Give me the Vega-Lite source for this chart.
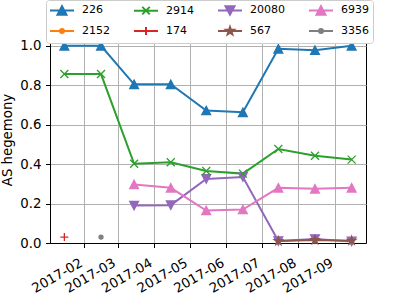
{
  "$schema": "https://vega.github.io/schema/vega-lite/v6.json",
  "autosize": {"type": "none"},
  "width": 316,
  "height": 207,
  "padding": {"left": 50, "top": 36, "right": 41, "bottom": 62},
  "config": {
    "font": "DejaVu Sans",
    "view": {"stroke": "black", "strokeWidth": 1},
    "axis": {
      "labelFont": "DejaVu Sans",
      "labelFontSize": 13.3,
      "labelColor": "black",
      "titleFont": "DejaVu Sans",
      "titleFontSize": 13.3,
      "titleFontWeight": "normal",
      "titleColor": "black",
      "domainColor": "black",
      "tickColor": "black",
      "tickSize": 4.5,
      "gridColor": "#b0b0b0",
      "gridWidth": 1,
      "gridOpacity": 1,
      "labelOverlap": false
    },
    "legend": {
      "labelFont": "DejaVu Sans",
      "labelFontSize": 11,
      "labelColor": "black",
      "title": null,
      "orient": "none",
      "legendX": -4,
      "legendY": -36,
      "columns": 4,
      "direction": "horizontal",
      "padding": 4,
      "fillColor": "white",
      "strokeColor": "#cccccc",
      "cornerRadius": 3,
      "symbolSize": 100,
      "symbolStrokeWidth": 2,
      "symbolOpacity": 1,
      "labelOffset": 20,
      "columnPadding": 20,
      "rowPadding": 4
    }
  },
  "data": {
    "values": [
      {"series": "226", "date": "2017-01-15", "value": 1.0},
      {"series": "226", "date": "2017-02-15", "value": 1.0},
      {"series": "226", "date": "2017-03-15", "value": 0.805},
      {"series": "226", "date": "2017-04-15", "value": 0.805},
      {"series": "226", "date": "2017-05-15", "value": 0.672},
      {"series": "226", "date": "2017-06-15", "value": 0.663},
      {"series": "226", "date": "2017-07-15", "value": 0.985},
      {"series": "226", "date": "2017-08-15", "value": 0.978},
      {"series": "226", "date": "2017-09-15", "value": 1.0},
      {"series": "2914", "date": "2017-01-15", "value": 0.857},
      {"series": "2914", "date": "2017-02-15", "value": 0.857},
      {"series": "2914", "date": "2017-03-15", "value": 0.402},
      {"series": "2914", "date": "2017-04-15", "value": 0.41},
      {"series": "2914", "date": "2017-05-15", "value": 0.365},
      {"series": "2914", "date": "2017-06-15", "value": 0.352},
      {"series": "2914", "date": "2017-07-15", "value": 0.477},
      {"series": "2914", "date": "2017-08-15", "value": 0.443},
      {"series": "2914", "date": "2017-09-15", "value": 0.423},
      {"series": "174", "date": "2017-01-15", "value": 0.03},
      {"series": "3356", "date": "2017-02-15", "value": 0.03},
      {"series": "20080", "date": "2017-03-15", "value": 0.19},
      {"series": "20080", "date": "2017-04-15", "value": 0.192},
      {"series": "20080", "date": "2017-05-15", "value": 0.325},
      {"series": "20080", "date": "2017-06-15", "value": 0.335},
      {"series": "20080", "date": "2017-07-15", "value": 0.01},
      {"series": "20080", "date": "2017-08-15", "value": 0.02},
      {"series": "20080", "date": "2017-09-15", "value": 0.008},
      {"series": "6939", "date": "2017-03-15", "value": 0.297},
      {"series": "6939", "date": "2017-04-15", "value": 0.28},
      {"series": "6939", "date": "2017-05-15", "value": 0.165},
      {"series": "6939", "date": "2017-06-15", "value": 0.17},
      {"series": "6939", "date": "2017-07-15", "value": 0.28},
      {"series": "6939", "date": "2017-08-15", "value": 0.275},
      {"series": "6939", "date": "2017-09-15", "value": 0.28},
      {"series": "567", "date": "2017-07-15", "value": 0.01},
      {"series": "567", "date": "2017-08-15", "value": 0.015},
      {"series": "567", "date": "2017-09-15", "value": 0.012}
    ]
  },
  "encoding": {
    "x": {
      "field": "date",
      "type": "temporal",
      "scale": {
        "type": "utc",
        "domain": [
          {"year": 2017, "month": 1, "date": 2, "hours": 20, "minutes": 24, "utc": true},
          {"year": 2017, "month": 9, "date": 27, "hours": 3, "minutes": 36, "utc": true}
        ],
        "nice": false
      },
      "axis": {
        "title": null,
        "format": "%Y-%m",
        "labelAngle": -30,
        "labelAlign": "right",
        "labelBaseline": "top",
        "labelPadding": 8,
        "labelOffset": -7,
        "labelOverlap": false,
        "values": [
          {"year": 2017, "month": 2, "date": 1, "utc": true},
          {"year": 2017, "month": 3, "date": 1, "utc": true},
          {"year": 2017, "month": 4, "date": 1, "utc": true},
          {"year": 2017, "month": 5, "date": 1, "utc": true},
          {"year": 2017, "month": 6, "date": 1, "utc": true},
          {"year": 2017, "month": 7, "date": 1, "utc": true},
          {"year": 2017, "month": 8, "date": 1, "utc": true},
          {"year": 2017, "month": 9, "date": 1, "utc": true}
        ]
      }
    },
    "y": {
      "field": "value",
      "type": "quantitative",
      "scale": {"domain": [0, 1.05], "nice": false, "zero": false},
      "axis": {
        "title": "AS hegemony",
        "values": [0, 0.2, 0.4, 0.6, 0.8, 1.0],
        "format": ".1f",
        "labelPadding": 4.5,
        "titlePadding": 5
      }
    },
    "color": {
      "field": "series", "type": "nominal", "sort": null,
      "scale": {
        "domain": ["226", "2914", "20080", "6939", "2152", "174", "567", "3356"],
        "range": ["#1f77b4", "#2ca02c", "#9467bd", "#e377c2", "#ff7f0e", "#d62728", "#8c564b", "#7f7f7f"]
      }
    },
    "stroke": {
      "field": "series", "type": "nominal", "sort": null,
      "scale": {
        "domain": ["226", "2914", "20080", "6939", "2152", "174", "567", "3356"],
        "range": ["#1f77b4", "#2ca02c", "#9467bd", "#e377c2", "#ff7f0e", "#d62728", "#8c564b", "#7f7f7f"]
      }
    }
  },
  "layer": [
    {
      "mark": {"type": "point", "filled": true, "size": 100, "strokeWidth": 2, "opacity": 0},
      "encoding": {
        "shape": {
          "field": "series",
          "type": "nominal",
          "sort": null,
          "scale": {
            "domain": ["226", "2914", "20080", "6939", "2152", "174", "567", "3356"],
            "range": [
              "M-1.2,0L3.6,0M1.2,-0.85L2.1,0.85L0.3,0.85Z",
              "M-1.2,0L3.6,0M0.45,-0.75L1.95,0.75M0.45,0.75L1.95,-0.75",
              "M-1.2,0L3.6,0M1.2,0.85L2.1,-0.85L0.3,-0.85Z",
              "M-1.2,0L3.6,0M1.2,-0.85L2.1,0.85L0.3,0.85Z",
              "M-1.2,0L3.6,0M0.8,0A0.4,0.4,0,1,1,1.6,0A0.4,0.4,0,1,1,0.8,0Z",
              "M-1.2,0L3.6,0M1.2,-0.8L1.2,0.8",
              "M-1.2,0L3.6,0M1.2,-0.8L1.388,-0.259L1.961,-0.247L1.504,0.099L1.67,0.647L1.2,0.32L0.73,0.647L0.896,0.099L0.439,-0.247L1.012,-0.259Z",
              "M-1.2,0L3.6,0M0.8,0A0.4,0.4,0,1,1,1.6,0A0.4,0.4,0,1,1,0.8,0Z"
            ]
          }
        }
      }
    },
    {
      "mark": {"type": "line", "strokeWidth": 2}
    },
    {
      "transform": [{"filter": {"field": "series", "oneOf": ["226", "6939"]}}],
      "mark": {"type": "point", "filled": true, "size": 64, "strokeWidth": 1.3, "opacity": 1, "shape": "M0,-1.05L1.1,1.05L-1.1,1.05Z"}
    },
    {
      "transform": [{"filter": {"field": "series", "oneOf": ["20080"]}}],
      "mark": {"type": "point", "filled": true, "size": 64, "strokeWidth": 1.3, "opacity": 1, "shape": "M0,1.05L1.1,-1.05L-1.1,-1.05Z"}
    },
    {
      "transform": [{"filter": {"field": "series", "oneOf": ["2914"]}}],
      "mark": {"type": "point", "filled": true, "size": 64, "strokeWidth": 1.3, "opacity": 1, "shape": "M-1,-1L1,1M-1,1L1,-1"}
    },
    {
      "transform": [{"filter": {"field": "series", "oneOf": ["174"]}}],
      "mark": {"type": "point", "filled": true, "size": 64, "strokeWidth": 1.3, "opacity": 1, "shape": "M-1,0L1,0M0,-1L0,1"}
    },
    {
      "transform": [{"filter": {"field": "series", "oneOf": ["567"]}}],
      "mark": {"type": "point", "filled": true, "size": 64, "strokeWidth": 1.3, "opacity": 1, "shape": "M0,-1.1L0.259,-0.356L1.046,-0.34L0.418,0.136L0.647,0.89L0,0.44L-0.647,0.89L-0.418,0.136L-1.046,-0.34L-0.259,-0.356Z"}
    },
    {
      "transform": [{"filter": {"field": "series", "oneOf": ["3356", "2152"]}}],
      "mark": {"type": "point", "filled": true, "size": 64, "strokeWidth": 1.3, "opacity": 1, "shape": "M-0.5,0A0.5,0.5,0,1,1,0.5,0A0.5,0.5,0,1,1,-0.5,0Z"}
    }
  ]
}
